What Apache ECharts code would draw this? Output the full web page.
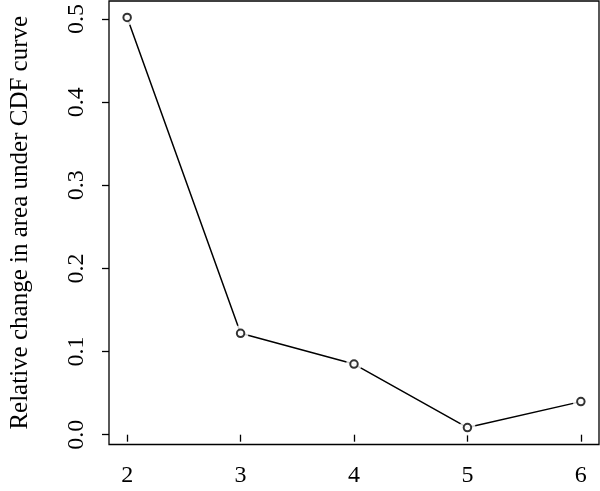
<!DOCTYPE html>
<html><head><meta charset="utf-8">
<script src="https://cdn.jsdelivr.net/npm/echarts@6/dist/echarts.min.js"></script>
<style>html,body{margin:0;padding:0;background:#fff}#c{width:600px;height:491px}</style>
</head><body><div id="c"></div>
<script>
const xValues = [2, 3, 4, 5, 6];
const yValues = [0.502, 0.122, 0.085, 0.0086, 0.0398];
const xTicks = [2, 3, 4, 5, 6];
const yTicks = [0, 0.1, 0.2, 0.3, 0.4, 0.5];
const yTitle = 'Relative change in area under CDF curve';

const pts = xValues.map((x, i) => [x, yValues[i]]);
const font = '"Liberation Serif", "Times New Roman", serif';
const chart = echarts.init(document.getElementById('c'), null, {renderer: 'canvas'});
chart.setOption({
  animation: false,
  backgroundColor: '#fff',
  grid: {left: 103, right: 1, top: 1, bottom: 46.5, show: true, borderColor: '#000', borderWidth: 1.3, backgroundColor: 'transparent'},
  xAxis: {
    type: 'value', min: 1.84, max: 6.16,
    splitLine: {show: false},
    axisLine: {show: false},
    axisTick: {show: true, inside: false, length: 7, customValues: xTicks, lineStyle: {color: '#000', width: 1.3}},
    axisLabel: {customValues: xTicks, margin: 19, color: '#000', fontFamily: font, fontSize: 24, formatter: v => String(v)}
  },
  yAxis: {
    type: 'value', min: -0.0118, max: 0.5218,
    splitLine: {show: false},
    axisLine: {show: false},
    axisTick: {show: true, inside: false, length: 7, customValues: yTicks, lineStyle: {color: '#000', width: 1.3}},
    axisLabel: {customValues: yTicks, rotate: 90, margin: 20, color: '#000', fontFamily: font, fontSize: 24, formatter: v => v.toFixed(1)},
    name: yTitle, nameLocation: 'middle', nameRotate: 90, nameGap: 76,
    nameTextStyle: {color: '#000', fontFamily: font, fontSize: 25}
  },
  series: [
    {type: 'line', data: pts, symbol: 'none', lineStyle: {color: '#000', width: 1.5}, z: 2},
    {type: 'scatter', data: pts, symbol: 'circle', symbolSize: 16, itemStyle: {color: '#fff'}, z: 3},
    {type: 'scatter', data: pts, symbol: 'emptyCircle', symbolSize: 7.5, itemStyle: {color: '#000', borderColor: '#000', borderWidth: 1.4}, z: 4}
  ]
});
</script></body></html>
